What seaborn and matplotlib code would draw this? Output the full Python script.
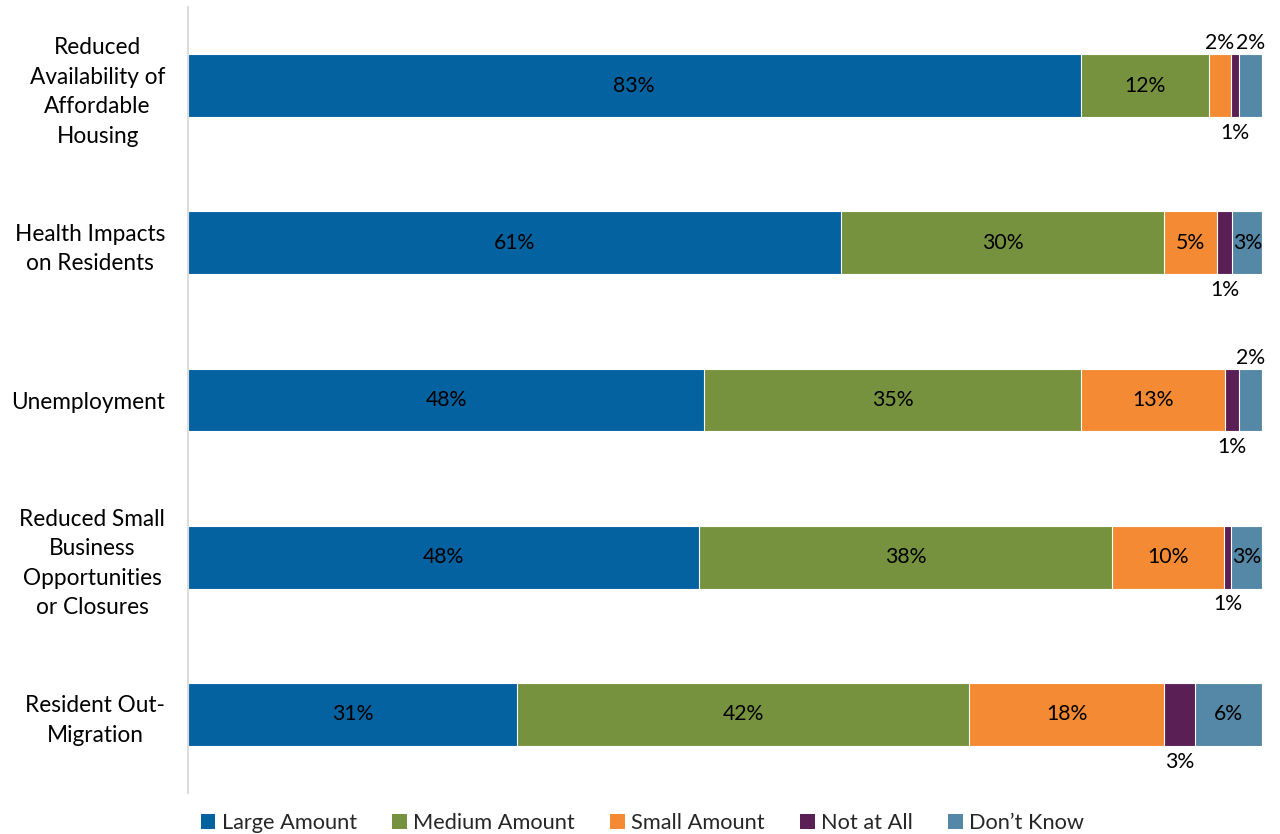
import matplotlib
matplotlib.use("Agg")
import matplotlib.pyplot as plt
from matplotlib.patches import Patch
import numpy as np
import pandas as pd
import seaborn as sns

# Survey responses: perceived impact of each issue (share of respondents, %)
categories = [
    "Reduced\nAvailability of\nAffordable\nHousing",
    "Health Impacts\non Residents",
    "Unemployment",
    "Reduced Small\nBusiness\nOpportunities\nor Closures",
    "Resident Out-\nMigration",
]
series = ["Large Amount", "Medium Amount", "Small Amount", "Not at All", "Don\u2019t Know"]
large_amount = [83.1, 60.8, 48.1, 47.6, 30.7]
medium_amount = [11.9, 30.1, 35.0, 38.4, 42.0]
small_amount = [2.1, 4.9, 13.4, 10.4, 18.2]
not_at_all = [0.7, 1.4, 1.3, 0.7, 2.8]
dont_know = [2.2, 2.8, 2.2, 2.9, 6.3]

colors = ["#0462A1", "#77923F", "#F48A33", "#5A1F55", "#5588A7"]

sns.set_theme(style="white")
plt.rcParams["font.family"] = ["Lato", "DejaVu Sans"]

df = pd.DataFrame({
    "category": categories,
    series[0]: large_amount,
    series[1]: medium_amount,
    series[2]: small_amount,
    series[3]: not_at_all,
    series[4]: dont_know,
})
cum = df[series].cumsum(axis=1)
cum.insert(0, "category", df["category"])

W, H = 1280, 834
fig = plt.figure(figsize=(W / 100, H / 100), dpi=100)
ax = fig.add_axes([187.5 / W, 1 - 793 / H, 1074.8 / W, 786 / H])

# stacked bars: draw cumulative totals from the outermost segment inward
for name, col in reversed(list(zip(series, colors))):
    sns.barplot(data=cum, x=name, y="category", orient="h", color=col,
                saturation=1, width=0.4, edgecolor="white", linewidth=0.8, ax=ax)

ax.set_xlim(0, 100)
ax.set_ylim(4.5, -0.5)
ax.set_xlabel("")
ax.set_ylabel("")
ax.set_xticks([])
ax.tick_params(axis="y", length=0, pad=16)
for lbl in ax.get_yticklabels():
    lbl.set_multialignment("center")
    lbl.set_fontsize(16.3)
    lbl.set_linespacing(1.5)
    lbl.set_color("black")

for side in ["top", "right", "bottom"]:
    ax.spines[side].set_visible(False)
ax.spines["left"].set_color("#d9d9d9")
ax.spines["left"].set_linewidth(1.3)

# value labels
for i in range(len(categories)):
    left = 0.0
    for name in series:
        v = df.loc[i, name]
        xc = left + v / 2
        txt = f"{v:.0f}%"
        if name == "Not at All":
            ax.text(xc, i + 0.30, txt, ha="center", va="center", fontsize=15.3, color="black")
        elif v < 2.5:
            ax.text(xc, i - 0.27, txt, ha="center", va="center", fontsize=15.3, color="black")
        else:
            ax.text(xc, i, txt, ha="center", va="center", fontsize=15.3, color="black")
        left += v

handles = [Patch(facecolor=c, edgecolor="none") for c in colors]
fig.legend(handles, series, loc="lower center", bbox_to_anchor=(0.502, -0.022), ncol=5,
           frameon=False, fontsize=15.7, handlelength=0.68, handleheight=0.68,
           handletextpad=0.3, columnspacing=1.6)

fig.savefig("out.png", dpi=100)
